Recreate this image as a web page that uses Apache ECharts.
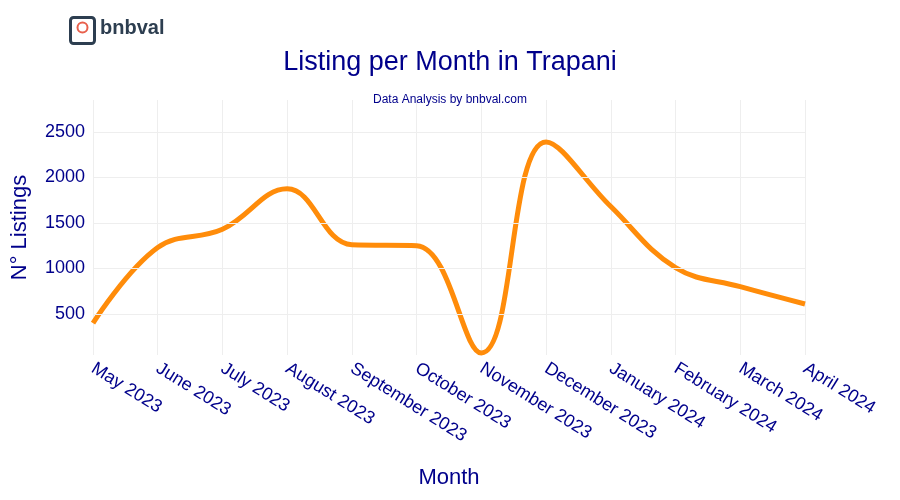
<!DOCTYPE html><html><head><meta charset="utf-8"><script src="https://cdn.jsdelivr.net/npm/echarts@6/dist/echarts.min.js"></script>
<style>body{margin:0}#c{width:900px;height:500px}</style></head><body><div id="c"></div><script>
const months=['May 2023','June 2023','July 2023','August 2023','September 2023','October 2023','November 2023','December 2023','January 2024','February 2024','March 2024','April 2024'];
const listings=[400,1230,1430,1875,1260,1250,72,2390,1680,1010,800,610];
const gridVals=[500,1000,1500,2000,2500];
const c=echarts.init(document.getElementById('c'));
c.setOption({
title:[{text:'Listing per Month in Trapani',left:'center',top:44,textStyle:{color:'#00008B',fontSize:27,fontWeight:'normal',fontFamily:'Liberation Sans'}},
{text:'Data Analysis by bnbval.com',left:'center',top:89,textStyle:{color:'#00008B',fontSize:12,fontWeight:'normal',fontFamily:'Liberation Sans'}}],
graphic:[{type:'text',left:100,top:18,style:{text:'bnbval',fill:'#2d3e50',font:'bold 20px Liberation Sans'}},
{type:'rect',left:68,top:15,shape:{width:24,height:26,r:3},style:{fill:'none',stroke:'#2d3e50',lineWidth:3}},
{type:'circle',left:75,top:20,shape:{r:5},style:{fill:'none',stroke:'#e8604c',lineWidth:2}}],
grid:{left:93,right:95,top:100,bottom:145,outerBoundsMode:'none'},
xAxis:{type:'category',data:months,boundaryGap:false,name:'Month',nameLocation:'middle',nameGap:112,nameTextStyle:{color:'#00008B',fontSize:22,fontFamily:'Liberation Sans'},
axisLine:{show:false},axisTick:{show:false},splitLine:{show:true,lineStyle:{color:'#eeeeee'}},
axisLabel:{rotate:-32,color:'#00008B',fontSize:18,fontFamily:'Liberation Sans',margin:12,align:'left'}},
yAxis:{type:'value',min:50,max:2850,interval:50,name:'N° Listings',nameLocation:'middle',nameGap:62,nameTextStyle:{color:'#00008B',fontSize:22,fontFamily:'Liberation Sans'},
axisLine:{show:false},axisTick:{show:false},splitLine:{show:false},
axisLabel:{color:'#00008B',fontSize:18,fontFamily:'Liberation Sans',formatter:v=>gridVals.includes(v)?String(v):''}},
series:[{type:'line',data:listings,smooth:0.4,symbol:'none',lineStyle:{color:'#FF8C0A',width:5},
markLine:{silent:true,symbol:'none',label:{show:false},lineStyle:{color:'#eeeeee',type:'solid',width:1},data:gridVals.map(v=>({yAxis:v}))},z:3}]
});
</script></body></html>
